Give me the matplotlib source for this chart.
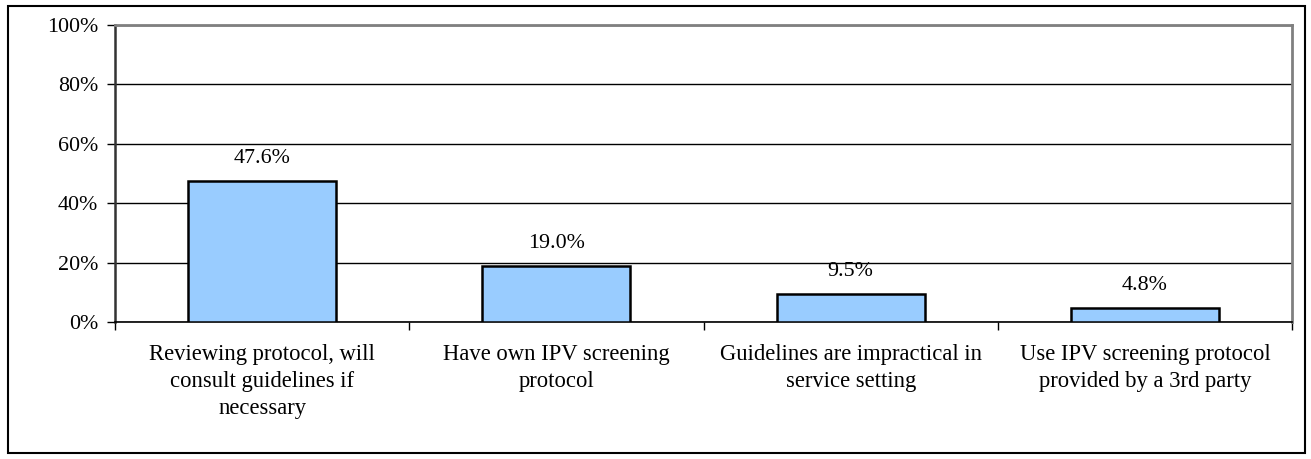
import matplotlib
matplotlib.use("Agg")
import matplotlib.pyplot as plt
from matplotlib.patches import Rectangle

categories = ["Reviewing protocol, will\nconsult guidelines if\nnecessary",
              "Have own IPV screening\nprotocol",
              "Guidelines are impractical in\nservice setting",
              "Use IPV screening protocol\nprovided by a 3rd party"]
values = [47.6, 19.0, 9.5, 4.8]
yticks = [0, 20, 40, 60, 80, 100]
ytick_labels = ["0%", "20%", "40%", "60%", "80%", "100%"]

plt.rcParams['font.family'] = ['Liberation Serif', 'DejaVu Serif']

fig = plt.figure(figsize=(13.11, 4.59), dpi=100)
ax = fig.add_axes([115/1311, 1-322/459, (1292-115)/1311, (322-25)/459])

x = list(range(len(values)))
ax.bar(x, values, width=0.503, color="#99CCFF", edgecolor="black", linewidth=1.8, zorder=3)
for xi, v in zip(x, values):
    ax.text(xi, v + 4.3, f"{v:.1f}%", ha="center", va="bottom", fontsize=15.8)

ax.set_xlim(-0.5, len(values) - 0.5)
ax.set_ylim(0, 100)
ax.set_yticks(yticks)
ax.set_yticklabels(ytick_labels, fontsize=15.8)
ax.yaxis.grid(True, color="black", linewidth=1.0, zorder=0)
ax.set_axisbelow(True)

ax.set_xticks([i + 0.5 for i in range(-1, len(values))])
ax.set_xticklabels([])
ax.set_xticks(x, minor=True)
ax.set_xticklabels(categories, minor=True, fontsize=16.3, linespacing=1.36, va="top")
ax.tick_params(axis="x", which="minor", length=0, pad=16)
ax.tick_params(axis="x", which="major", length=6, width=1, direction="out")
ax.tick_params(axis="y", length=6, width=1, direction="out", pad=6)

ax.spines["top"].set_color("#808080")
ax.spines["right"].set_color("#808080")
ax.spines["top"].set_linewidth(2)
ax.spines["right"].set_linewidth(2)
ax.spines["left"].set_color("#333333")
ax.spines["left"].set_linewidth(1.8)
ax.spines["bottom"].set_color("black")
ax.spines["bottom"].set_linewidth(1.2)

fig.patches.append(Rectangle((8/1311, 1-453/459), (1305-8)/1311, (453-6)/459,
                             transform=fig.transFigure, fill=False,
                             edgecolor="black", linewidth=1.5))

fig.savefig("out.png", dpi=100)
